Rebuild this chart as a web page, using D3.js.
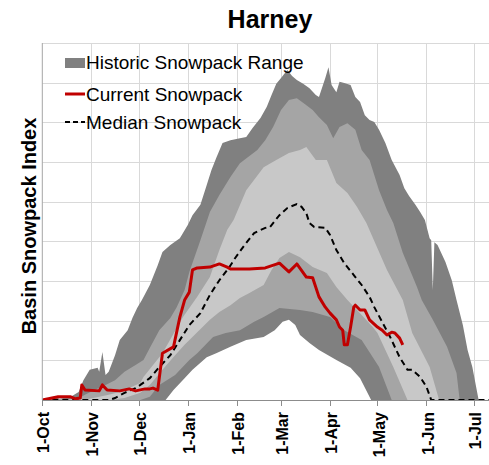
<!DOCTYPE html>
<html>
<head>
<meta charset="utf-8">
<script src="https://cdn.jsdelivr.net/npm/d3@7"></script>
<style>
  body { margin: 0; background: #fff; }
  svg { display: block; font-family: "Liberation Sans", Arial, sans-serif; }
</style>
</head>
<body>
<svg id="chart" width="489" height="465"></svg>
<script>
// days since 1-Oct, basin snowpack index
var maxRange = [[0,0],[5,0.03],[8,0.08],[11,0.03],[18,0.08],[23,0.2],[26,0.5],[30,0.76],[35,0.81],[36,0.71],[38,1.21],[40,0.63],[42,0.71],[46,1.13],[49,1.51],[54,1.76],[57,2.07],[60,2.32],[63,2.52],[68,2.9],[73,3.4],[76,3.73],[81,3.91],[87,4.08],[92,4.41],[95,4.66],[100,4.92],[104,5.42],[107,5.8],[110,6.1],[114,6.48],[119,6.55],[125,6.6],[129,6.63],[133,6.86],[138,7.11],[142,7.39],[145,7.69],[148,7.97],[151,8.12],[155,8.32],[158,8.17],[161,8.07],[165,7.97],[169,7.86],[173,7.69],[175,7.64],[179,8.12],[181,8.39],[183,7.94],[186,7.76],[188,8.02],[191,7.99],[195,7.94],[198,7.64],[201,7.51],[204,7.18],[207,7.06],[210,7.01],[213,6.81],[217,6.48],[221,6.05],[226,5.67],[229,5.34],[232,5.14],[236,4.92],[239,4.74],[242,4.54],[245,4.08],[246,4.03],[247,2.77],[248,3.98],[250,3.91],[255,3.48],[259,3.02],[262,2.52],[266,1.89],[269,1.26],[272,0.83],[276,0]];
var p90 = [[0,0],[21,0],[27,0.13],[33,0.25],[40,0.38],[46,0.5],[52,0.71],[59,0.88],[64,1.01],[68,1.31],[74,1.76],[81,2.07],[85,2.34],[90,2.77],[93,3.23],[100,4.03],[106,4.74],[112,5.17],[119,5.62],[125,5.97],[136,6.3],[141,6.55],[146,6.88],[151,7.31],[156,7.56],[161,7.61],[166,7.46],[171,7.31],[175,7.13],[180,6.93],[184,6.6],[188,6.88],[193,6.98],[198,6.81],[202,6.3],[207,6.05],[213,5.29],[218,4.79],[222,4.46],[228,3.71],[237,2.85],[240,2.52],[247,2.02],[256,1.34],[262,0.68],[264,0]];
var p70 = [[0,0],[30,0.03],[36,0.08],[42,0.13],[49,0.2],[55,0.3],[62,0.43],[64,0.58],[76,1.18],[89,2.09],[98,2.6],[106,3.1],[112,3.78],[117,4.29],[121,4.54],[129,5.29],[140,5.87],[148,6.05],[156,6.23],[163,6.3],[167,6.38],[173,6.05],[180,6.05],[186,5.47],[193,5.22],[199,4.87],[205,4.46],[218,3.28],[228,2.52],[234,1.69],[245,0.83],[251,0]];
var p30 = [[0,0],[42,0],[52,0.05],[62,0.18],[68,0.38],[76,0.76],[84,1.13],[90,1.39],[98,1.71],[106,2.02],[112,2.22],[119,2.39],[125,2.57],[131,2.7],[140,2.9],[145,3.28],[150,3.58],[156,3.73],[163,3.6],[171,3.35],[180,3.2],[186,2.85],[193,2.52],[201,2.19],[209,1.84],[212,1.69],[222,0.83],[231,0]];
var p10 = [[0,0],[62,0],[68,0.08],[74,0.38],[84,0.63],[93,1.01],[98,1.18],[108,1.59],[116,1.69],[125,1.76],[134,1.97],[140,2.09],[150,2.32],[163,2.27],[171,2.22],[182,2.09],[191,1.76],[202,1.51],[213,0.83],[221,0]];
var minRange = [[0,0],[78,0],[83,0.25],[90,0.55],[95,0.76],[104,1.08],[110,1.18],[119,1.34],[129,1.51],[140,1.59],[147,1.76],[152,1.97],[156,2.02],[160,1.89],[163,1.64],[169,1.44],[175,1.26],[186,1.01],[195,0.81],[201,0.55],[208,0]];
var median = [[0,0],[42,0],[46,0.05],[52,0.18],[59,0.3],[62,0.38],[68,0.55],[74,0.83],[81,1.13],[87,1.51],[93,1.89],[100,2.19],[106,2.65],[112,3.02],[118,3.33],[122,3.58],[128,3.91],[134,4.21],[141,4.34],[144,4.36],[150,4.66],[155,4.84],[161,4.94],[164,4.87],[167,4.71],[169,4.46],[172,4.36],[179,4.34],[182,4.16],[186,3.78],[191,3.45],[198,3.1],[202,2.9],[207,2.6],[210,2.34],[220,1.59],[226,1.08],[231,0.76],[234,0.76],[239,0.58],[243,0.33],[246,0],[304,0]];
var current = [[0,0],[10,0.08],[18,0.08],[21,0.03],[24,0.05],[25,0.38],[27,0.25],[36,0.23],[38,0.38],[41,0.25],[49,0.23],[55,0.28],[59,0.23],[65,0.28],[68,0.28],[70,0.3],[73,0.25],[76,1.18],[83,1.34],[87,2.09],[90,2.52],[93,2.72],[95,3.28],[98,3.33],[106,3.35],[112,3.43],[117,3.35],[119,3.3],[131,3.3],[141,3.33],[150,3.45],[156,3.23],[161,3.43],[167,3.1],[171,3.08],[175,2.6],[179,2.34],[182,2.19],[186,2.02],[188,1.84],[190,1.76],[191,1.39],[193,1.39],[195,1.84],[197,2.34],[198,2.39],[201,2.27],[204,2.27],[207,2.02],[212,1.84],[215,1.76],[218,1.64],[221,1.71],[223,1.69],[226,1.56],[228,1.39]];

var bands = [
	{ data: maxRange, fill: '#808080' },
	{ data: p90, fill: '#a5a5a5' },
	{ data: p70, fill: '#c8c8c8' },
	{ data: p30, fill: '#a5a5a5' },
	{ data: p10, fill: '#808080' },
	{ data: minRange, fill: '#ffffff' }
];

var svg = d3.select('#chart'),
	plotLeft = 42.3,
	pxPerDay = 1.581,
	plotTop = 43,
	plotBottom = 400,
	plotRight = 489;

var start = new Date(2014, 9, 1);
var x = d3.scaleTime()
	.domain([start, d3.timeDay.offset(start, 304)])
	.range([plotLeft, plotLeft + 304 * pxPerDay]);
var y = d3.scaleLinear().domain([0, 9]).range([plotBottom, plotTop]);
var day = (d) => d3.timeDay.offset(start, d);

svg.append('defs').append('clipPath').attr('id', 'plot')
	.append('rect').attr('x', plotLeft).attr('y', plotTop - 2)
	.attr('width', plotRight - plotLeft).attr('height', plotBottom - plotTop + 2);

var months = x.ticks(d3.timeMonth.every(1)).filter(d => x(d) <= plotRight);

// grid
var grid = svg.append('g').attr('stroke', '#d9d9d9').attr('stroke-width', 1);
grid.selectAll('.h').data(d3.range(1, 10)).enter().append('line')
	.attr('x1', plotLeft).attr('x2', plotRight)
	.attr('y1', d => Math.round(y(d)) + 0.5).attr('y2', d => Math.round(y(d)) + 0.5);
grid.selectAll('.v').data(months.slice(1)).enter().append('line')
	.attr('x1', d => Math.round(x(d)) + 0.5).attr('x2', d => Math.round(x(d)) + 0.5)
	.attr('y1', plotTop).attr('y2', plotBottom);

var plot = svg.append('g').attr('clip-path', 'url(#plot)');

var area = d3.area()
	.x(d => x(day(d[0])))
	.y0(y(0))
	.y1(d => y(d[1]));

plot.selectAll('.band').data(bands).enter().append('path')
	.attr('d', d => area(d.data))
	.attr('fill', d => d.fill);

var line = d3.line()
	.x(d => x(day(d[0])))
	.y(d => y(d[1]));

plot.append('path')
	.attr('d', line(median))
	.attr('fill', 'none')
	.attr('stroke', '#000')
	.attr('stroke-width', 2)
	.attr('stroke-dasharray', '6,4');

plot.append('path')
	.attr('d', line(current))
	.attr('fill', 'none')
	.attr('stroke', '#c00000')
	.attr('stroke-width', 3)
	.attr('stroke-linejoin', 'round');

// axes
svg.append('line')
	.attr('x1', plotLeft).attr('x2', plotLeft).attr('y1', plotTop).attr('y2', plotBottom)
	.attr('stroke', '#a6a6a6');
svg.append('line')
	.attr('x1', plotLeft).attr('x2', plotRight).attr('y1', plotBottom + 0.5).attr('y2', plotBottom + 0.5)
	.attr('stroke', '#8c8c8c');
svg.selectAll('.tick').data(months).enter().append('line')
	.attr('x1', d => Math.round(x(d)) + 0.5).attr('x2', d => Math.round(x(d)) + 0.5)
	.attr('y1', plotBottom).attr('y2', plotBottom + 6)
	.attr('stroke', '#8c8c8c');

var fmt = d3.timeFormat('%b');
svg.selectAll('.mlabel').data(months).enter().append('text')
	.attr('transform', d => `translate(${x(d) + 1.5},${plotBottom + 12}) rotate(-90)`)
	.attr('text-anchor', 'end')
	.attr('dy', '0.35em')
	.attr('font-size', 16)
	.attr('font-weight', 'bold')
	.text(d => '1-' + fmt(d));

svg.append('text')
	.attr('transform', 'translate(36,226) rotate(-90)')
	.attr('text-anchor', 'middle')
	.attr('font-size', 20)
	.attr('font-weight', 'bold')
	.text('Basin Snowpack Index');

svg.append('text')
	.attr('x', 270).attr('y', 28)
	.attr('text-anchor', 'middle')
	.attr('font-size', 25)
	.attr('font-weight', 'bold')
	.text('Harney');

// legend
var legend = svg.append('g').attr('font-size', 19);
legend.append('rect').attr('x', 65).attr('y', 58).attr('width', 20).attr('height', 10).attr('fill', '#808080');
legend.append('text').attr('x', 86).attr('y', 69).text('Historic Snowpack Range');
legend.append('line').attr('x1', 65).attr('x2', 85).attr('y1', 94).attr('y2', 94)
	.attr('stroke', '#c00000').attr('stroke-width', 3);
legend.append('text').attr('x', 86).attr('y', 100.5).text('Current Snowpack');
legend.append('line').attr('x1', 65).attr('x2', 85).attr('y1', 122).attr('y2', 122)
	.attr('stroke', '#000').attr('stroke-width', 2).attr('stroke-dasharray', '5,3');
legend.append('text').attr('x', 86).attr('y', 128.5).text('Median Snowpack');
</script>
</body>
</html>
